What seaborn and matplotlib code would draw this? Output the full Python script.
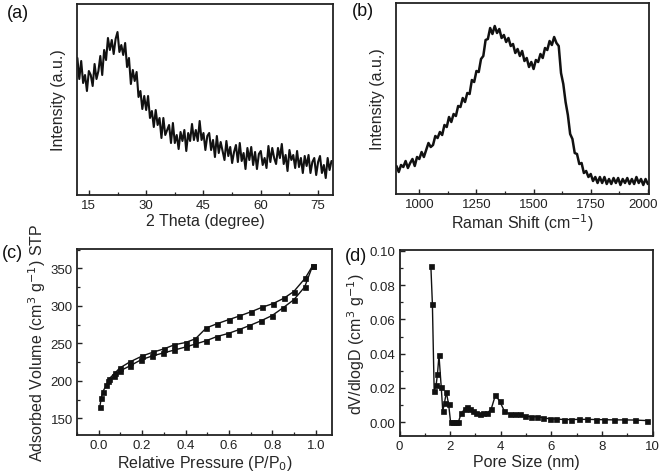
import numpy as np
import pandas as pd
import matplotlib
matplotlib.use("Agg")
import matplotlib.pyplot as plt
from matplotlib.ticker import MultipleLocator, FormatStrFormatter, FixedLocator, FixedFormatter
import seaborn as sns

# ---------------- data ----------------
# (a) XRD pattern, sampled every 0.5 degree starting at 12.0
xrd_start = 12.0
xrd_step = 0.5
xrd_intensity = [
    137, 116, 134, 112, 120, 104, 124, 120, 109, 131,
    116, 124, 139, 120, 145, 135, 157, 145, 155, 141,
    156, 163, 143, 150, 140, 152, 128, 137, 111, 125,
    114, 123, 98, 104, 86, 99, 85, 99, 77, 84,
    68, 85, 70, 77, 57, 77, 60, 65, 70, 52,
    72, 52, 60, 46, 63, 54, 65, 44, 62, 54,
    71, 55, 65, 54, 74, 55, 62, 45, 59, 62,
    45, 55, 38, 59, 42, 53, 44, 35, 54, 39,
    48, 32, 43, 50, 33, 52, 34, 42, 26, 47,
    35, 48, 30, 43, 26, 41, 44, 30, 37, 27,
    49, 33, 47, 37, 31, 47, 37, 51, 31, 40,
    24, 45, 35, 40, 27, 44, 28, 37, 22, 39,
    29, 40, 22, 33, 37, 20, 33, 39, 22, 30,
    17, 37, 25, 34,
]

# (b) Raman spectrum, sampled every 10 cm-1 starting at 900
raman_start = 900
raman_step = 10
raman_intensity = [
    28, 22, 29, 27, 33, 26, 31, 35, 28, 37,
    35, 42, 37, 44, 51, 47, 49, 58, 56, 62,
    59, 69, 67, 77, 72, 80, 78, 88, 87, 96,
    92, 101, 100, 114, 112, 123, 122, 135, 138, 154,
    155, 166, 160, 168, 161, 165, 156, 159, 152, 156,
    148, 150, 141, 145, 138, 143, 133, 136, 127, 132,
    125, 134, 132, 140, 136, 146, 144, 153, 149, 157,
    151, 148, 121, 110, 92, 79, 60, 55, 41, 40,
    30, 31, 21, 23, 17, 20, 13, 17, 11, 17,
    11, 17, 10, 15, 10, 16, 11, 16, 9, 15,
    11, 16, 10, 15, 10, 17, 11, 15, 9, 15,
    10,
]
raman_ticks = [1000, 1250, 1500, 1750, 2000]
raman_tick_labels = ["1000", "1250", "1500", "1750", "2000"]

# (c) N2 isotherm
ads_p = [0.005, 0.012, 0.018, 0.035, 0.045, 0.072, 0.097, 0.145, 0.195, 0.246,
         0.297, 0.349, 0.400, 0.446, 0.496, 0.545, 0.596, 0.645, 0.694, 0.748,
         0.799, 0.848, 0.899, 0.949, 0.986]
ads_v = [165, 177, 185, 194, 200, 206, 213, 220, 228, 233,
         237, 241, 245, 249, 253.5, 259, 263, 268, 273.5, 280,
         287, 297, 308, 325, 353.5]
des_p = [0.986, 0.952, 0.899, 0.853, 0.804, 0.753, 0.702, 0.645, 0.599, 0.545,
         0.496, 0.446, 0.400, 0.349, 0.300, 0.249, 0.200, 0.143, 0.097, 0.077,
         0.046]
des_v = [353.5, 337, 319, 310, 303, 298, 292, 286, 281.5, 276,
         270.5, 256, 251, 248, 242.5, 238, 233, 225, 217, 211,
         202]

# (d) pore size distribution
pore_size = [1.24, 1.30, 1.37, 1.45, 1.50, 1.56, 1.65, 1.71, 1.78, 1.85,
             1.94, 2.02, 2.12, 2.22, 2.32, 2.45, 2.57, 2.68, 2.80, 2.92,
             3.04, 3.17, 3.30, 3.45, 3.62, 3.79, 3.96, 4.15, 4.35, 4.55,
             4.75, 4.97, 5.20, 5.43, 5.69, 5.93, 6.20, 6.49, 6.79, 7.10,
             7.43, 7.76, 8.10, 8.48, 8.89, 9.31, 9.77]
dv_dlogd = [0.091, 0.069, 0.0185, 0.022, 0.028, 0.039, 0.0205, 0.0065, 0.0115, 0.0175,
            0.0107, 0.0, 0.0, 0.0, 0.0, 0.0055, 0.0075, 0.009, 0.0078, 0.0066,
            0.0052, 0.0046, 0.0052, 0.0052, 0.0075, 0.0158, 0.0123, 0.0064, 0.0048, 0.0048,
            0.0047, 0.0036, 0.0032, 0.0032, 0.0027, 0.0020, 0.0019, 0.0016, 0.0016, 0.0017,
            0.0017, 0.0016, 0.0015, 0.0014, 0.0014, 0.0013, 0.0010]

# ---------------- style ----------------
sns.set_style("ticks")
plt.rcParams["font.family"] = ["Liberation Sans", "DejaVu Sans"]
plt.rcParams.update({
    "xtick.direction": "in", "ytick.direction": "in",
    "xtick.major.size": 3.5, "ytick.major.size": 3.5,
    "xtick.minor.size": 2, "ytick.minor.size": 2,
    "xtick.major.width": 1.0, "ytick.major.width": 1.0,
    "xtick.minor.width": 0.9, "ytick.minor.width": 0.9,
    "axes.linewidth": 1.3, "axes.edgecolor": "#222222",
    "xtick.color": "#222222", "ytick.color": "#222222",
    "xtick.labelsize": 9.5, "ytick.labelsize": 9.5,
    "axes.labelsize": 11.5,
})

W, H = 661, 477
fig = plt.figure(figsize=(W / 100, H / 100), dpi=100)


def ax_at(l, t, r, b):
    return fig.add_axes([l / W, 1 - b / H, (r - l) / W, (b - t) / H])


ax_a = ax_at(77, 5, 333, 196)
ax_b = ax_at(396, 4, 649, 195)
ax_c = ax_at(77, 250, 332, 436)
ax_d = ax_at(399.5, 251, 652.5, 437)

black = "#111111"

# (a)
df_a = pd.DataFrame({"theta": xrd_start + xrd_step * np.arange(len(xrd_intensity)),
                     "I": xrd_intensity})
sns.lineplot(data=df_a, x="theta", y="I", ax=ax_a, color=black, lw=1.5,
             estimator=None, sort=False)
ax_a.set_xlim(11.9, 78.9)
ax_a.set_ylim(0, 191)
ax_a.xaxis.set_major_locator(MultipleLocator(15))
ax_a.xaxis.set_minor_locator(MultipleLocator(7.5))
ax_a.set_yticks([])
ax_a.set_xlabel("2 Theta (degree)", labelpad=1)
ax_a.set_ylabel("Intensity (a.u.)", labelpad=8)

# (b)
df_b = pd.DataFrame({"shift": raman_start + raman_step * np.arange(len(raman_intensity)),
                     "I": raman_intensity})
sns.lineplot(data=df_b, x="shift", y="I", ax=ax_b, color=black, lw=1.8,
             estimator=None, sort=False)
ax_b.set_xlim(898, 2005)
ax_b.set_ylim(0, 191)
ax_b.xaxis.set_major_locator(FixedLocator(raman_ticks))
# last label is drawn separately (nudged left so it stays inside the figure)
ax_b.xaxis.set_major_formatter(FixedFormatter(raman_tick_labels[:-1] + [""]))
ax_b.xaxis.set_minor_locator(MultipleLocator(125))
ax_b.annotate(raman_tick_labels[-1], xy=(raman_ticks[-1], 0),
              xycoords=("data", "axes fraction"), xytext=(-3.8, -3.2),
              textcoords="offset points", ha="center", va="top",
              fontsize=9.5, color="#222222")
ax_b.set_yticks([])
ax_b.set_xlabel("Raman Shift (cm$^{-1}$)", labelpad=1)
ax_b.set_ylabel("Intensity (a.u.)", labelpad=8)

# (c)
df_c = pd.concat([
    pd.DataFrame({"p": ads_p, "v": ads_v, "branch": "ads"}),
    pd.DataFrame({"p": des_p, "v": des_v, "branch": "des"}),
])
sns.lineplot(data=df_c, x="p", y="v", units="branch", estimator=None, sort=False,
             ax=ax_c, color=black, lw=1.0, marker="s", markersize=3.6,
             markeredgecolor=black, markeredgewidth=0.5)
ax_c.set_xlim(-0.1, 1.075)
ax_c.set_ylim(127.7, 375.7)
ax_c.xaxis.set_major_locator(MultipleLocator(0.2))
ax_c.xaxis.set_minor_locator(MultipleLocator(0.1))
ax_c.yaxis.set_major_locator(MultipleLocator(50))
ax_c.yaxis.set_minor_locator(MultipleLocator(25))
ax_c.xaxis.set_major_formatter(FormatStrFormatter("%.1f"))
ax_c.set_xlabel("Relative Pressure (P/P$_0$)", labelpad=1)
ax_c.set_ylabel("Adsorbed Volume (cm$^3$ g$^{-1}$) STP", labelpad=2)

# (d)
df_d = pd.DataFrame({"size": pore_size, "dv": dv_dlogd})
sns.lineplot(data=df_d, x="size", y="dv", ax=ax_d, estimator=None, sort=False,
             color=black, lw=1.0, marker="s", markersize=3.6,
             markeredgecolor=black, markeredgewidth=0.5)
ax_d.set_xlim(0, 10)
ax_d.set_ylim(-0.008, 0.1005)
ax_d.xaxis.set_major_locator(MultipleLocator(2))
ax_d.xaxis.set_minor_locator(MultipleLocator(1))
ax_d.yaxis.set_major_locator(MultipleLocator(0.02))
ax_d.yaxis.set_minor_locator(MultipleLocator(0.01))
ax_d.yaxis.set_major_formatter(FormatStrFormatter("%.2f"))
ax_d.set_xlabel("Pore Size (nm)", labelpad=1)
ax_d.set_ylabel("dV/dlogD (cm$^3$ g$^{-1}$)", labelpad=2)

for ax in (ax_a, ax_b, ax_c, ax_d):
    for s in ax.spines.values():
        s.set_visible(True)
    ax.tick_params(which="both", top=False, right=False, pad=3)

# panel labels
for txt, x, y in [("(a)", 7, 14), ("(b)", 352, 12), ("(c)", 2, 254), ("(d)", 345, 257)]:
    fig.text(x / W, 1 - y / H, txt, fontsize=13, ha="left", va="center", color=black)

fig.savefig("out.png", dpi=100)
